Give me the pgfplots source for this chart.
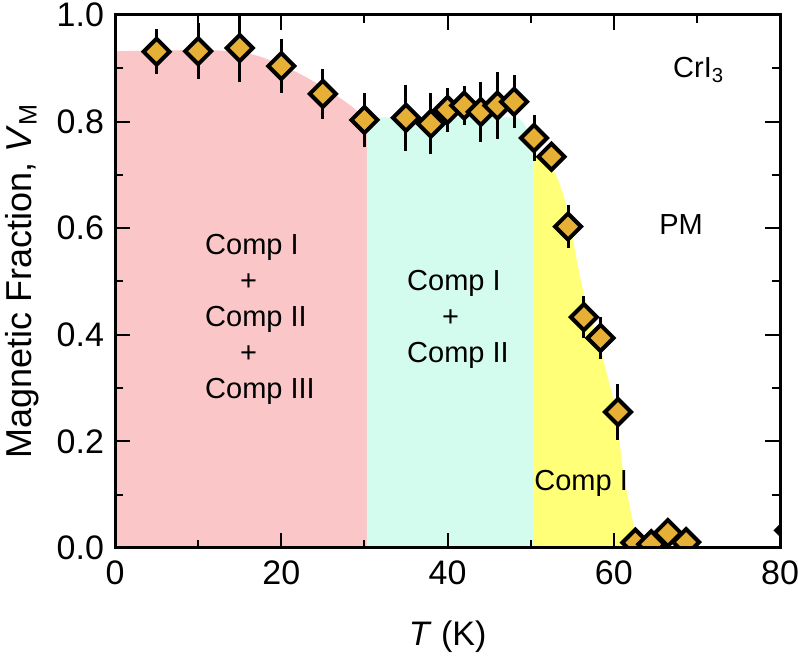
\documentclass[border=0pt]{standalone}
\usepackage{pgfplots}
\pgfplotsset{compat=1.18}
\usepackage{fontspec}
\setmainfont{Liberation Sans}
\definecolor{pinkfill}{HTML}{FBC6C7}
\definecolor{cyanfill}{HTML}{D3FCEE}
\definecolor{yellowfill}{HTML}{FFFF78}
\definecolor{markfill}{HTML}{E6B036}
\pgfplotstableread{
T V e
5 0.931 0.042
10 0.932 0.053
15 0.938 0.064
20 0.904 0.050
25 0.852 0.047
30 0.803 0.050
35 0.807 0.062
38 0.796 0.057
40 0.822 0.041
42 0.830 0.037
44 0.818 0.056
46 0.830 0.062
48 0.837 0.050
50.4 0.769 0.043
52.5 0.734 0.020
54.5 0.603 0.041
56.4 0.433 0.040
58.4 0.394 0.040
60.5 0.255 0.052
62.6 0.010 0.005
64.5 0.007 0.005
66.5 0.028 0.005
68.7 0.011 0.005
}\datatable
\begin{document}
\begin{tikzpicture}
\begin{axis}[
  width=332.5pt, height=266.5pt, scale only axis,
  xmin=0, xmax=80, ymin=0, ymax=1.0,
  xtick={0,20,40,60,80}, ytick={0,0.2,0.4,0.6,0.8,1.0},
  minor x tick num=1, minor y tick num=1,
  tick align=inside, tick pos=both,
  major tick length=7.5pt, minor tick length=4pt,
  every tick/.style={black, line width=1pt},
  axis line style={line width=1.5pt},
  axis on top,
  clip mode=individual,
  clip marker paths=true,
  /pgf/number format/assume math mode=true,
  yticklabel style={/pgf/number format/fixed, /pgf/number format/fixed zerofill, /pgf/number format/precision=1, font=\fontsize{17}{20}\selectfont, xshift=-2pt},
  xticklabel style={font=\fontsize{17}{20}\selectfont, yshift=-3pt},
  scaled y ticks=false,
  xlabel={\textit{T} (K)},
  ylabel={Magnetic Fraction, \textit{V}\textsubscript{M}},
  xlabel style={font=\fontsize{17}{20}\selectfont, at={(axis description cs:0.5,-0.167)}, anchor=center},
  ylabel style={font=\fontsize{18}{20}\selectfont, at={(axis description cs:-0.14,0.5)}, anchor=center},
]
% shaded regions
\addplot[draw=none, fill=pinkfill, smooth, tension=0.5] coordinates {
 (0,0.932) (10,0.934) (14,0.932) (16.2,0.927) (18.3,0.917) (22.3,0.889) (26.2,0.853) (29.1,0.82) (30.3,0.79)
} \closedcycle;
\addplot[draw=none, fill=cyanfill, smooth, tension=0.5] coordinates {
 (30.3,0.808) (40,0.808) (46,0.808) (48,0.807) (49,0.8) (49.9,0.775) (50.35,0.745)
} \closedcycle;
\addplot[draw=none, fill=yellowfill, smooth, tension=0.5] coordinates {
 (50.3,0.74) (52.0,0.725) (53.2,0.694) (54.4,0.634) (56.2,0.49) (58.4,0.371) (60.2,0.259) (61.1,0.146) (62.3,0.047) (62.8,0)
} \closedcycle;
% error bars (behind the markers)
\addplot[
  only marks, mark=none,
  error bars/.cd, y dir=both, y explicit, error mark=none,
  error bar style={line width=1.5pt, black},
] table[x=T, y=V, y error=e] {\datatable};
% markers
\addplot[
  only marks, mark=square*, mark size=4.6pt,
  mark options={rotate=45, fill=markfill, draw=black, line width=2pt},
] table[x=T, y=V] {\datatable};
% last point, just beyond the right edge (cut by the axis)
\addplot[
  only marks, mark=square*, mark size=4.6pt,
  mark options={xshift=4.6pt, rotate=45, fill=markfill, draw=black, line width=2pt},
] coordinates {(80,0.033)};
% labels
\node[anchor=west, inner sep=0pt, align=left, font=\fontsize{14.5}{18}\selectfont] at (axis cs:10.8,0.428)
 {Comp I\\\hspace{1.2em}+\\Comp II\\\hspace{1.2em}+\\Comp III};
\node[anchor=west, inner sep=0pt, align=left, font=\fontsize{14.5}{18}\selectfont] at (axis cs:35.1,0.428)
 {Comp I\\\hspace{1.2em}+\\Comp II};
\node[anchor=west, inner sep=0pt, font=\fontsize{14.5}{18}\selectfont] at (axis cs:50.4,0.122) {Comp I};
\node[font=\fontsize{14.5}{18}\selectfont] at (axis cs:68.1,0.606) {PM};
\node[anchor=base west, inner sep=0pt, font=\fontsize{14.5}{18}\selectfont] at (axis cs:67.1,0.882) {CrI\textsubscript{3}};
\coordinate (bbbl) at (axis description cs:-0.173,-0.214);
\coordinate (bbtr) at (axis description cs:1.027,1.028);
\end{axis}
\pgfresetboundingbox
\path[use as bounding box] (bbbl) rectangle (bbtr);
\end{tikzpicture}
\end{document}
